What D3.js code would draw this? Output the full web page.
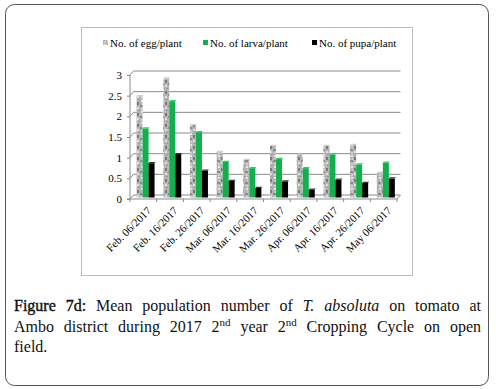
<!DOCTYPE html>
<html><head><meta charset="utf-8">
<script src="https://cdn.jsdelivr.net/npm/d3@7"></script>
<style>
body{margin:0;background:#fff;}
#wrap{position:relative;width:496px;height:389px;overflow:hidden;}
#chart{position:absolute;left:0;top:0;}
#chart text{font-family:"Liberation Serif","Times New Roman",serif;}
#cap{position:absolute;left:14px;top:296px;width:467px;font-family:"Liberation Serif","Times New Roman",serif;font-size:16px;line-height:20.5px;color:#111;}
#cap div{text-align:justify;text-align-last:justify;white-space:nowrap;}
#cap div.last{text-align-last:left;}
#cap .fig{-webkit-text-stroke:0.4px #111;}
sup{font-size:11px;line-height:0;vertical-align:6px;}
</style></head>
<body>
<div id="wrap"><svg id="chart" width="496" height="389"></svg><div id="cap"></div></div>
<script>
const categories = ["Feb. 06/2017","Feb. 16/2017","Feb. 26/2017","Mar. 06/2017","Mar. 16/2017","Mar. 26/2017","Apr. 06/2017","Apr. 16/2017","Apr. 26/2017","May 06/2017"];
const eggValues   = [2.45,2.88,1.75,1.10,0.91,1.25,1.03,1.25,1.27,0.60];
const larvaValues = [1.67,2.33,1.58,0.86,0.71,0.93,0.71,1.04,0.80,0.84];
const pupaValues  = [0.83,1.05,0.65,0.40,0.23,0.39,0.19,0.43,0.35,0.46];
const seriesNames = ["No. of egg/plant","No. of larva/plant","No. of pupa/plant"];
const yTicks = [0,0.5,1,1.5,2,2.5,3];

const FONT = '"Liberation Serif","Times New Roman",serif';
const series = [
  {name: seriesNames[0], values: eggValues, fill: "url(#stone)", key: "#9a9a9a"},
  {name: seriesNames[1], values: larvaValues, fill: "#12b04c", key: "#12b04c"},
  {name: seriesNames[2], values: pupaValues, fill: "#000000", key: "#000000"}
];

const svg = d3.select("#chart");
const defs = svg.append("defs");
const pat = defs.append("pattern").attr("id","stone").attr("patternUnits","userSpaceOnUse")
  .attr("width",7).attr("height",11);
pat.append("rect").attr("width",7).attr("height",11).attr("fill","#b5b5b5");
const blobs = [[1,1,2,2,"#e6e6e6"],[4,3,2,3,"#7a7a7a"],[0,6,3,2,"#8c8c8c"],[4,8,2,2,"#dedede"],[2,4,1,2,"#d0d0d0"],[5,0,2,1,"#9a9a9a"],[1,9,2,2,"#cfcfcf"]];
blobs.forEach(b => pat.append("rect").attr("x",b[0]).attr("y",b[1]).attr("width",b[2]).attr("height",b[3]).attr("fill",b[4]));

// outer frame
svg.append("rect").attr("x",5.5).attr("y",4.5).attr("width",483).attr("height",381)
  .attr("rx",9).attr("fill","none").attr("stroke","#555").attr("stroke-width",1);
// chart box
svg.append("rect").attr("x",81.5).attr("y",27.5).attr("width",331).attr("height",248)
  .attr("fill","#fff").attr("stroke","#bdbdbd").attr("stroke-width",1);

const x0 = 130, x1 = 397, dX = 3.5, dY = -4;
const x = d3.scaleBand().domain(categories).range([x0, x1]).paddingInner(0).paddingOuter(0);
const y = d3.scaleLinear().domain([0,3]).range([199, 75]);

const g = svg.append("g");
yTicks.forEach(t => {
  if (t === 0) return;
  g.append("path").attr("d", `M${x0},${y(t)}L${x0+dX},${y(t)+dY}L${x1+dX},${y(t)+dY}`)
    .attr("fill","none").attr("stroke","#8a8a8a").attr("stroke-width",1);
});
g.append("path").attr("d", `M${x0},${y(0)}L${x1},${y(0)}L${x1+dX},${y(0)+dY}L${x0+dX},${y(0)+dY}Z`)
  .attr("fill","none").attr("stroke","#8a8a8a").attr("stroke-width",1);

const bw = 6;
const bx = d3.scaleBand().domain(d3.range(series.length)).range([0, bw*series.length]);
const groupOff = (x.bandwidth() - bw*series.length)/2 + 2.2;
series.forEach((s, si) => {
  s.values.forEach((v, i) => {
    const left = x(categories[i]) + groupOff + bx(si);
    const top = y(v) - 1.5, bottom = y(0) - 1.5;
    g.append("rect").attr("x", left).attr("y", top).attr("width", bx.bandwidth()).attr("height", bottom - top)
      .attr("fill", s.fill);
    g.append("path").attr("d", `M${left},${top}L${left+1},${top-1.2}L${left+bw+1},${top-1.2}L${left+bw},${top}Z`)
      .attr("fill", si === 2 ? "#333" : (si === 1 ? "#3cc46a" : "#cfcfcf"));
  });
});

const yAxis = d3.axisLeft(y).tickValues(yTicks).tickSize(3).tickFormat(d3.format(""));
const ya = svg.append("g").attr("transform", `translate(${x0},0)`).call(yAxis);
ya.attr("font-family", FONT);
ya.select(".domain").attr("stroke","#8a8a8a").attr("d", `M-3,${y(0)}H0V${y(3)}`);
ya.selectAll(".tick line").attr("stroke","#8a8a8a");
ya.selectAll(".tick text").style("font-family", FONT)
  .attr("font-size",11).attr("fill","#000").attr("x",-8);

const xa = svg.append("g").attr("transform", `translate(0,${y(0)})`);
const bounds = categories.map(c => x(c)).concat([x1]);
bounds.forEach(b => xa.append("line").attr("x1",b).attr("x2",b).attr("y1",0).attr("y2",3).attr("stroke","#8a8a8a"));
categories.forEach(c => {
  const cx = x(c) + x.bandwidth()/2 + 3;
  xa.append("text").attr("transform", `translate(${cx},7) rotate(-45)`)
    .attr("text-anchor","end").attr("dy","0.7em")
    .style("font-family", FONT).attr("font-size",11)
    .attr("fill","#000").text(c);
});

const legX = [103, 203, 312];
series.forEach((s, si) => {
  const lg = svg.append("g").attr("transform", `translate(${legX[si]},43)`);
  lg.append("rect").attr("x",0).attr("y",-3).attr("width",5).attr("height",5).attr("fill", si===0 ? "url(#stone)" : s.key);
  lg.append("text").attr("x",7).attr("y",0).attr("dy","0.35em")
    .style("font-family", FONT).attr("font-size",11)
    .attr("fill","#000").text(s.name);
});

const cap = d3.select("#cap");
cap.append("div").html('<span class="fig">Figure 7d:</span> Mean population number of <i>T. absoluta</i> on tomato at');
cap.append("div").html('Ambo district during 2017 2<sup>nd</sup> year 2<sup>nd</sup> Cropping Cycle on open');
cap.append("div").attr("class","last").text('field.');
</script>
</body></html>
